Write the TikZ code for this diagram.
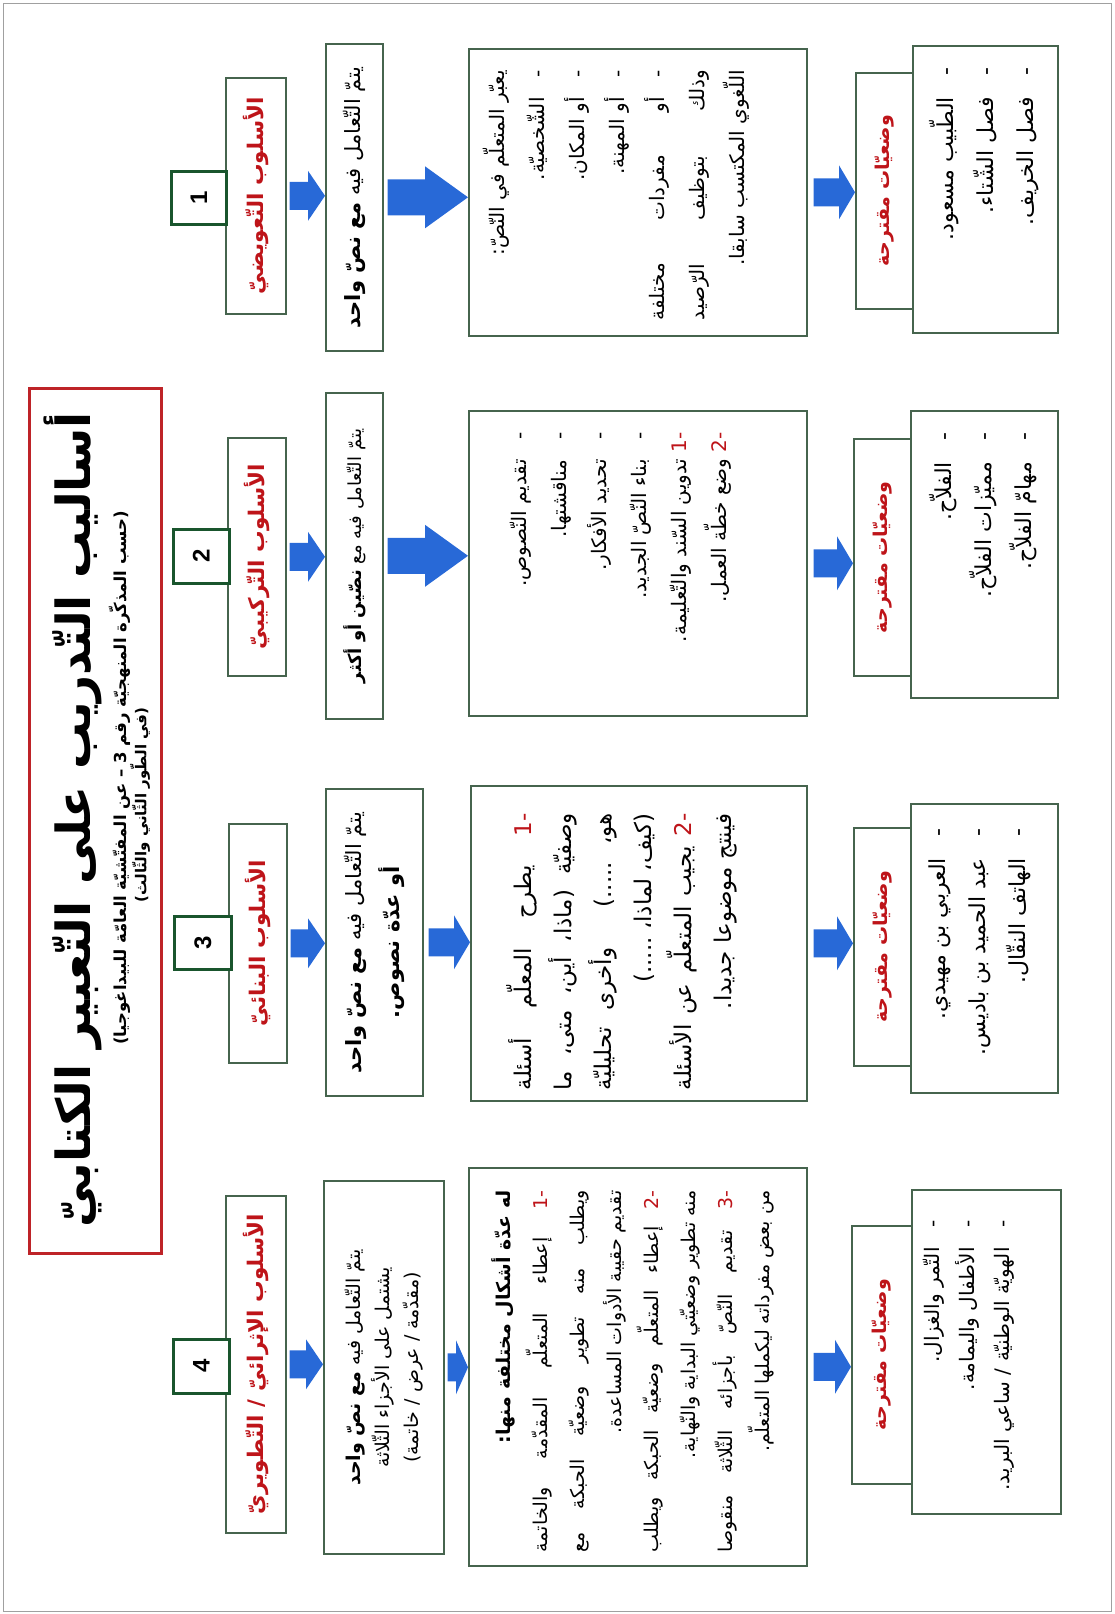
\documentclass[tikz,border=0pt]{standalone}
\usepackage{fontspec}
\usetikzlibrary{calc}
\TeXXeTstate=1
\newfontfamily\arabicfont[Script=Arabic]{DejaVu Sans}
\newfontfamily\numfont{Liberation Sans}
\definecolor{boxgreen}{RGB}{70,100,78}
\definecolor{numgreen}{RGB}{25,85,45}
\definecolor{titlered}{RGB}{190,35,40}
\definecolor{labelred}{RGB}{190,20,25}
\definecolor{arrowblue}{RGB}{40,105,215}
\definecolor{framegray}{RGB}{160,160,160}
\newcommand\RL[1]{\beginR #1\endR}
\newcommand\jl[2]{\makebox[#1pt][s]{\beginR #2\endR}}
% line with a red number at its start (right end)
\newcommand\nline[2]{\beginR #2\endR\ \textcolor{labelred}{#1}}
\newcommand\jnline[3]{\makebox[#1pt][s]{\beginR #3\endR\ \textcolor{labelred}{#2}}}
\newcommand\bx[6][box]{\node[#1, minimum width=#5pt-#3pt, minimum height=#6pt-#4pt] (#2) at (#3,#4) {};}
\newcommand\barrow[6]{%
  \fill[arrowblue] let \p1=(#1.east), \p2=(#2.west) in
  (\x1+#3pt,\y1+#4pt) -- (\x2-#6pt,\y1+#4pt) -- (\x2-#6pt,\y1+#5pt) -- (\x2,\y1)
  -- (\x2-#6pt,\y1-#5pt) -- (\x2-#6pt,\y1-#4pt) -- (\x1+#3pt,\y1-#4pt) -- cycle;}
\begin{document}
\begin{tikzpicture}[x=1pt,y=-1pt,
  box/.style={draw=boxgreen, line width=1.6pt, fill=white, inner sep=0pt, anchor=north west},
  numbox/.style={box, draw=numgreen, line width=2.6pt},
  titlebox/.style={box, draw=titlered, line width=3pt},
  lbltxt/.style={rotate=90, text=labelred, font=\arabicfont\bfseries\fontsize{21.5}{24}\selectfont, inner sep=0pt},
  sugtitle/.style={lbltxt, font=\arabicfont\bfseries\fontsize{19}{22}\selectfont},
  sectxt/.style={rotate=90, align=center, font=\arabicfont\fontsize{21}{30}\selectfont, inner sep=0pt},
  contxt/.style={rotate=90, anchor=north east, align=right, font=\arabicfont\fontsize{20}{40}\selectfont, inner sep=0pt},
  sugtxt/.style={contxt, font=\arabicfont\fontsize{22}{40}\selectfont},
  numtxt/.style={rotate=90, font=\numfont\bfseries\fontsize{24}{26}\selectfont, inner sep=0pt}]
\useasboundingbox (0,0) rectangle (1114,1614);
\node[draw=framegray, line width=1.2pt, minimum width=1108pt, minimum height=1608pt, anchor=north west, inner sep=0pt] (frame) at (3,3) {};

% title
\bx[titlebox]{tbox}{28}{387}{160}{1252}
\node[rotate=90, inner sep=0pt, font=\arabicfont\bfseries\fontsize{47}{50}\selectfont] (title) at (73,820) {\RL{أساليب التّدريب على التّعبير الكتابيّ}};
\node[rotate=90, inner sep=0pt, font=\arabicfont\bfseries\fontsize{16.5}{18}\selectfont] (sub1) at (120,778) {\RL{(حسب المذكّرة المنهجيّة رقم 3 – عن المفتّشيّة العامّة للبيداغوجيا)}};
\node[rotate=90, inner sep=0pt, font=\arabicfont\bfseries\fontsize{15}{18}\selectfont] (sub2) at (140,805) {\RL{(في الطّور الثّاني والثّالث)}};

% method 1
\bx{lab1}{225}{77}{285}{313}
\bx[numbox]{num1}{170}{170}{225}{223}
\bx{sec1}{325}{43}{382}{350}
\bx{con1}{468}{48}{806}{335}
\bx{sgl1}{855}{72}{912}{308}
\bx{sgc1}{912}{45}{1057}{332}
% method 2
\bx{lab2}{227}{437}{285}{675}
\bx[numbox]{num2}{172}{528}{228}{582}
\bx{sec2}{325}{392}{382}{718}
\bx{con2}{468}{410}{806}{715}
\bx{sgl2}{853}{438}{910}{675}
\bx{sgc2}{910}{410}{1057}{697}
% method 3
\bx{lab3}{228}{823}{286}{1062}
\bx[numbox]{num3}{173}{915}{230}{968}
\bx{sec3}{325}{788}{422}{1095}
\bx{con3}{470}{785}{806}{1100}
\bx{sgl3}{853}{827}{910}{1065}
\bx{sgc3}{910}{803}{1057}{1092}
% method 4
\bx{lab4}{225}{1195}{285}{1532}
\bx[numbox]{num4}{172}{1338}{228}{1392}
\bx{sec4}{323}{1180}{443}{1553}
\bx{con4}{468}{1167}{806}{1565}
\bx{sgl4}{851}{1225}{911}{1483}
\bx{sgc4}{911}{1189}{1060}{1513}

% arrows
\barrow{lab1}{sec1}{3}{14}{25}{17}
\barrow{sec1}{con1}{4}{18}{31}{43}
\barrow{con1}{sgl1}{6}{14}{27}{16}
\barrow{lab2}{sec2}{3}{14}{25}{17}
\barrow{sec2}{con2}{4}{18}{31}{43}
\barrow{con2}{sgl2}{6}{14}{27}{16}
\barrow{lab3}{sec3}{3}{14}{25}{17}
\barrow{sec3}{con3}{5}{14}{27}{16}
\barrow{con3}{sgl3}{6}{14}{27}{16}
\barrow{lab4}{sec4}{3}{14}{25}{17}
\barrow{sec4}{con4}{3}{14}{27}{12}
\barrow{con4}{sgl4}{6}{14}{27}{16}

% numbers
\node[numtxt] (n1) at (num1.center) {1};
\node[numtxt] (n2) at (num2.center) {2};
\node[numtxt] (n3) at (num3.center) {3};
\node[numtxt] (n4) at (num4.center) {4};

% labels
\node[lbltxt] (lab1t) at (lab1.center) {\RL{الأسلوب التّعويضيّ}};
\node[lbltxt] (lab2t) at (lab2.center) {\RL{الأسلوب التّركيبيّ}};
\node[lbltxt] (lab3t) at (lab3.center) {\RL{الأسلوب البنائيّ}};
\node[lbltxt] (lab4t) at (lab4.center) {\RL{الأسلوب الإثرائيّ / التّطويريّ}};

% second boxes
\node[sectxt] (sec1t) at (sec1.center) {\RL{يتمّ التّعامل فيه {\bfseries مع نصّ واحد}}};
\node[sectxt, font=\arabicfont\fontsize{18}{30}\selectfont] (sec2t) at (sec2.center) {\RL{يتمّ التّعامل فيه مع {\bfseries نصّين أو أكثر}}};
\node[sectxt, font=\arabicfont\fontsize{21}{30}\selectfont] (sec3t) at (sec3.center) {\RL{يتمّ التّعامل فيه {\bfseries مع نصّ واحد}}\\[8pt] \RL{{\bfseries\fontsize{21}{24}\selectfont أو عدّة نصوص.}}};
\node[sectxt, font=\arabicfont\fontsize{19}{29}\selectfont] (sec4t) at (sec4.center) {\RL{يتمّ التّعامل فيه {\bfseries مع نصّ واحد}}\\ \RL{يشتمل على الأجزاء الثّلاثة}\\ \RL{(مقدّمة / عرض / خاتمة)}};

% contents
\node[contxt] (con1t) at ($(con1.north west)+(15,22)$) {\RL{يعبّر المتعلّم في النّصّ:}\\
\RL{-\quad الشّخصيّة.}\\
\RL{-\quad أو المكان.}\\
\RL{-\quad أو المهنة.}\\
\jl{250}{-\quad أو مفردات مختلفة}\\
\jl{250}{وذلك بتوظيف الرّصيد}\\
\RL{اللّغوي المكتسب سابقا.}};

\node[contxt] (con2t) at ($(con2.north west)+(42,22)$) {\RL{-\quad تقديم النّصوص.}\\
\RL{-\quad مناقشتها.}\\
\RL{-\quad تحديد الأفكار.}\\
\RL{-\quad بناء النّصّ الجديد.}\\
\nline{-1}{تدوين السّند والتّعليمة.}\\
\nline{-2}{وضع خطّة العمل.}};

\node[contxt, font=\arabicfont\fontsize{23}{40}\selectfont] (con3t) at ($(con3.north west)+(36,28)$) {\jnline{277}{-1}{يطرح المعلّم أسئلة}\\
\jl{277}{وصفيّة (ماذا، أين، متى، ما}\\
\jl{277}{هو، .....) وأخرى تحليليّة}\\
\RL{(كيف، لماذا، .....)}\\
\jnline{277}{-2}{يجيب المتعلّم عن الأسئلة}\\
\RL{فينتج موضوعا جديدا.}};

\node[contxt, font=\arabicfont\fontsize{19}{37}\selectfont] (con4t) at ($(con4.north west)+(23,23)$) {\RL{{\bfseries له عدّة أشكال مختلفة منها:}}\\
\jnline{362}{-1}{إعطاء المتعلّم المقدّمة والخاتمة}\\
\jl{362}{ويطلب منه تطوير وضعيّة الحبكة مع}\\
\RL{تقديم حقيبة الأدوات المساعدة.}\\
\jnline{362}{-2}{إعطاء المتعلّم وضعيّة الحبكة ويطلب}\\
\RL{منه تطوير وضعيّتي البداية والنّهاية.}\\
\jnline{362}{-3}{تقديم النّصّ بأجزائه الثّلاثة منقوصا}\\
\RL{من بعض مفرداته ليكملها المتعلّم.}};

% suggestions
\node[sugtitle] (sgl1t) at (sgl1.center) {\RL{وضعيّات مقترحة}};
\node[sugtitle] (sgl2t) at (sgl2.center) {\RL{وضعيّات مقترحة}};
\node[sugtitle] (sgl3t) at (sgl3.center) {\RL{وضعيّات مقترحة}};
\node[sugtitle] (sgl4t) at (sgl4.center) {\RL{وضعيّات مقترحة}};

\node[sugtxt] (sgc1t) at ($(sgc1.north west)+(17,22)$) {\RL{-\quad الطّبيب مسعود.}\\ \RL{-\quad فصل الشّتاء.}\\ \RL{-\quad فصل الخريف.}};
\node[sugtxt] (sgc2t) at ($(sgc2.north west)+(19,22)$) {\RL{-\quad الفلاّح.}\\ \RL{-\quad مميّزات الفلاّح.}\\ \RL{-\quad مهامّ الفلاّح.}};
\node[sugtxt] (sgc3t) at ($(sgc3.north west)+(19,25)$) {\RL{-\quad العربي بن مهيدي.}\\ \RL{-\quad عبد الحميد بن باديس.}\\ \RL{-\quad الهاتف النقّال.}};
\node[sugtxt, font=\arabicfont\fontsize{20}{35}\selectfont] (sgc4t) at ($(sgc4.north west)+(12,31)$) {\RL{-\quad التّمر والغزال.}\\ \RL{-\quad الأطفال واليمامة.}\\ \RL{-\quad الهويّة الوطنيّة / ساعي البريد.}};
\end{tikzpicture}
\end{document}
